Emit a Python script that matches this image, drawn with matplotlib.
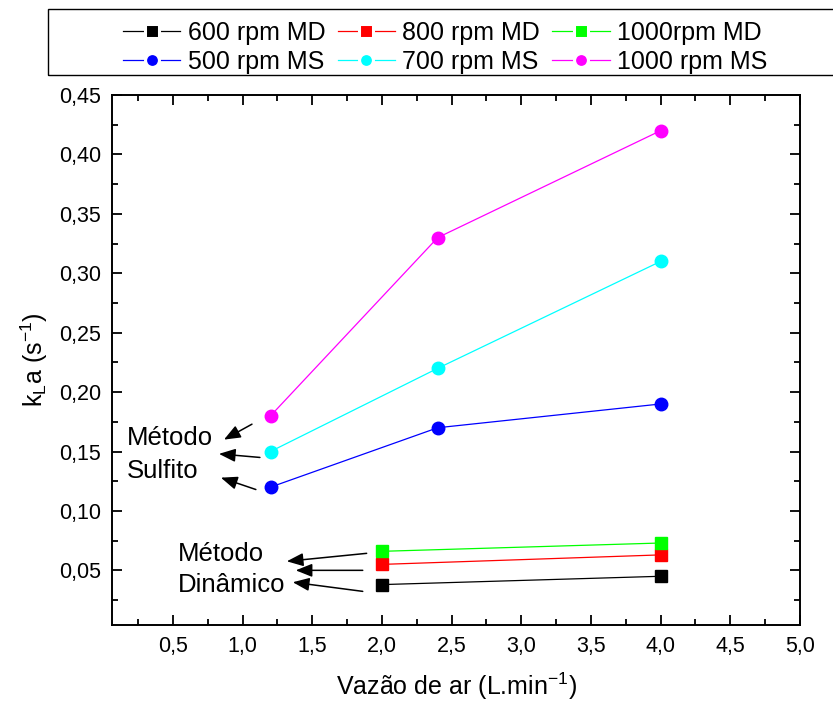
import matplotlib
matplotlib.use("Agg")
import matplotlib.pyplot as plt
from matplotlib.ticker import MultipleLocator, FuncFormatter
from matplotlib.patches import Rectangle
from matplotlib.lines import Line2D

plt.rcParams['font.family'] = ['Liberation Sans', 'DejaVu Sans']
plt.rcParams['mathtext.fontset'] = 'custom'
plt.rcParams['mathtext.rm'] = 'Liberation Sans'
plt.rcParams['mathtext.it'] = 'Liberation Sans'
plt.rcParams['axes.unicode_minus'] = False

# metodo dinamico (MD)
x_md = [2.0, 4.0]
md_600 = [0.038, 0.045]
md_800 = [0.055, 0.063]
md_1000 = [0.066, 0.073]

# metodo sulfito (MS)
x_ms = [1.2, 2.4, 4.0]
ms_500 = [0.12, 0.17, 0.19]
ms_700 = [0.15, 0.22, 0.31]
ms_1000 = [0.18, 0.33, 0.42]

fig = plt.figure(figsize=(8.33, 7.07), dpi=100)
ax = fig.add_axes([112/833, 1-625/707, 688/833, 530/707])

series = [(x_md, md_600, 's', 'black', '600 rpm MD'),
          (x_md, md_800, 's', '#ff0000', '800 rpm MD'),
          (x_md, md_1000, 's', '#00ff00', '1000rpm MD'),
          (x_ms, ms_500, 'o', '#0000ff', '500 rpm MS'),
          (x_ms, ms_700, 'o', '#00ffff', '700 rpm MS'),
          (x_ms, ms_1000, 'o', '#ff00ff', '1000 rpm MS')]
leg = {}
for xs, ys, m, c, lab in series:
    ax.plot(xs, ys, '-' + m, color=c, lw=0.9, ms=8 if m == 's' else 9)
    # legend handle with a small white gap round the marker
    leg[lab] = Line2D([], [], color=c, lw=0.9, marker=m, ms=10 if m == 'o' else 9.5,
                      markerfacecolor=c, markeredgecolor='white', markeredgewidth=2.2)

ax.set_xlim(0.0625, 5.0)
ax.set_ylim(0.004, 0.45)
ax.xaxis.set_major_locator(MultipleLocator(0.5))
ax.xaxis.set_minor_locator(MultipleLocator(0.25))
ax.yaxis.set_major_locator(MultipleLocator(0.05))
ax.yaxis.set_minor_locator(MultipleLocator(0.025))
ax.xaxis.set_major_formatter(FuncFormatter(lambda v, p: ('%.1f' % v).replace('.', ',')))
ax.yaxis.set_major_formatter(FuncFormatter(lambda v, p: ('%.2f' % v).replace('.', ',')))
ax.tick_params(which='both', direction='in', top=True, right=True, width=1.3, labelsize=15.5)
ax.tick_params(which='major', length=7, pad=8)
ax.tick_params(which='minor', length=4)
for s in ax.spines.values():
    s.set_linewidth(1.4)

ax.set_xlabel('Vazão de ar (L.min$^{-1}$)', fontsize=18, labelpad=10)
ax.set_ylabel('k$_\\mathrm{L}$a (s$^{-1}$)', fontsize=18, labelpad=6)

# annotations
ax.text(0.17, 0.161, 'Método', fontsize=18.5, va='center')
ax.text(0.17, 0.134, 'Sulfito', fontsize=18.5, va='center')
ax.text(0.536, 0.0635, 'Método', fontsize=18.5, va='center')
ax.text(0.536, 0.0374, 'Dinâmico', fontsize=18.5, va='center')
arrows = [((1.067, 0.173), (0.866, 0.160)),
          ((1.124, 0.145), (0.830, 0.148)),
          ((1.095, 0.118), (0.844, 0.128)),
          ((1.89, 0.0643), (1.317, 0.0576)),
          ((1.862, 0.050), (1.381, 0.050)),
          ((1.862, 0.0323), (1.36, 0.040))]
for start, end in arrows:
    ax.annotate('', xy=end, xytext=start,
                arrowprops=dict(arrowstyle='-|>,head_length=0.5,head_width=0.2',
                                color='black', lw=1.1,
                                mutation_scale=20, shrinkA=0, shrinkB=0))

# legend box (runs off the right edge)
fig.patches.append(Rectangle((48/833, 1-75/707), 1.0, 66/707, transform=fig.transFigure,
                             fill=False, edgecolor='black', lw=1.0))
order = ['600 rpm MD', '500 rpm MS', '800 rpm MD', '700 rpm MS', '1000rpm MD', '1000 rpm MS']
fig.legend([leg[k] for k in order], order, ncol=3, loc='upper left',
           bbox_to_anchor=(123/833, 1-21/707),
           frameon=False, fontsize=18, handlelength=2.3, handletextpad=0.28,
           columnspacing=0.5, labelspacing=0.2, borderpad=0, borderaxespad=0)

fig.savefig('out.png', dpi=100)
